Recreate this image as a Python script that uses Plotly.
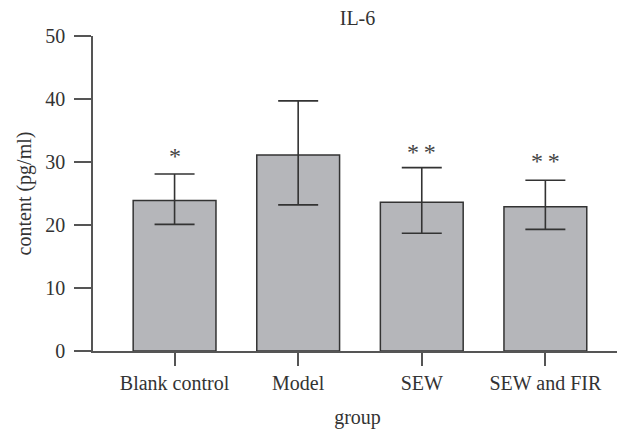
import plotly.graph_objects as go

categories = ["Blank control", "Model", "SEW", "SEW and FIR"]
means = [23.9, 31.1, 23.6, 22.9]
err_plus = [4.2, 8.6, 5.5, 4.2]
err_minus = [3.8, 7.9, 4.9, 3.6]
sig_labels = ["*", "", "*\u2009*", "*\u2009*"]
sig_y = [31.0, None, 31.6, 30.2]

FONT = "Liberation Serif"
TXT = "#333333"
FS = 20

# page body has a default 8px margin; size the figure to compensate
W, H = 617, 421

fig = go.Figure()
fig.add_trace(go.Bar(
    x=categories, y=means, width=0.67,
    marker=dict(color="#b5b6ba", line=dict(color="#333333", width=1.5)),
    error_y=dict(type="data", array=err_plus, arrayminus=err_minus,
                 color="#333333", thickness=1.6, width=20, visible=True),
    showlegend=False,
))

for c, s, y in zip(categories, sig_labels, sig_y):
    if s:
        fig.add_annotation(x=c, y=y, text=s, showarrow=False,
                           font=dict(family=FONT, size=24, color="#444444"),
                           yanchor="middle")

fig.update_layout(
    width=W, height=H,
    margin=dict(l=85, r=3, t=28, b=78, autoexpand=False),
    paper_bgcolor="white", plot_bgcolor="white",
    font=dict(family=FONT, size=FS, color=TXT),
    title=dict(text="IL-6", x=0.5, xanchor="center", xref="paper",
               y=1 - 10 / H, yref="container", yanchor="middle",
               font=dict(family=FONT, size=FS, color=TXT)),
)
fig.update_xaxes(
    range=[-0.66, 3.62], showline=True, linecolor="#555555", linewidth=1.5,
    ticks="outside", ticklen=13, tickcolor="#555555", tickwidth=1.5,
    title=dict(text="group", standoff=17, font=dict(family=FONT, size=FS, color=TXT)),
    showgrid=False, zeroline=False, automargin=False,
)
fig.update_yaxes(
    range=[0, 50], tickvals=[0, 10, 20, 30, 40, 50],
    showline=True, linecolor="#555555", linewidth=1.5,
    ticks="outside", ticklen=17, tickcolor="#555555", tickwidth=1.5,
    ticklabelstandoff=5,
    title=dict(text="content (pg/ml)", standoff=8, font=dict(family=FONT, size=FS, color=TXT)),
    showgrid=False, zeroline=False, automargin=False,
)

fig.write_html("out.html")
